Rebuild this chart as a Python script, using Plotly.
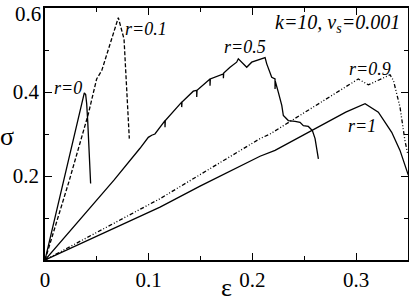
import plotly.graph_objects as go

# r = 0 (solid)
r0_x = [0.0, 0.0360, 0.0379, 0.0392, 0.0402, 0.0412, 0.0425, 0.0440]
r0_y = [0.0, 0.385, 0.398, 0.394, 0.372, 0.330, 0.262, 0.182]

# r = 0.1 (dashed)
r01_x = [0.0, 0.0235, 0.0418, 0.0498, 0.0547, 0.0707, 0.0762, 0.0813]
r01_y = [0.0, 0.190, 0.348, 0.431, 0.451, 0.577, 0.526, 0.289]

# r = 0.5 (solid, serrated)
r05_x = [0.0, 0.0665, 0.0916, 0.0996, 0.1029, 0.1060, 0.1157, 0.1157, 0.1160,
         0.1318, 0.1318, 0.1321, 0.1430, 0.1463, 0.1463, 0.1466, 0.1591, 0.1591,
         0.1594, 0.1720, 0.1720, 0.1723, 0.1784, 0.1848, 0.1864, 0.1897, 0.1945,
         0.1993, 0.2041, 0.2073, 0.2122, 0.2138, 0.2170, 0.2186, 0.2218, 0.2218,
         0.2221, 0.2250, 0.2283, 0.2298, 0.2346, 0.2411, 0.2459, 0.2491, 0.2539,
         0.2578, 0.2604, 0.2636]
r05_y = [0.0, 0.190, 0.266, 0.292, 0.297, 0.300, 0.332, 0.316, 0.332,
         0.376, 0.364, 0.376, 0.402, 0.404, 0.388, 0.404, 0.431, 0.415,
         0.431, 0.443, 0.433, 0.445, 0.459, 0.471, 0.479, 0.471, 0.459,
         0.471, 0.475, 0.479, 0.482, 0.467, 0.447, 0.435, 0.431, 0.407,
         0.425, 0.399, 0.368, 0.344, 0.332, 0.330, 0.328, 0.320, 0.318,
         0.308, 0.289, 0.241]

# r = 0.9 (dash-dot)
r09_x = [0.0, 0.1109, 0.2073, 0.2170, 0.3021, 0.3118, 0.3327, 0.3360, 0.3423, 0.3470, 0.3497]
r09_y = [0.0, 0.146, 0.289, 0.300, 0.431, 0.417, 0.441, 0.427, 0.364, 0.285, 0.253]

# r = 1 (solid)
r1_x = [0.0, 0.1109, 0.1495, 0.2073, 0.2218, 0.2900, 0.3086, 0.3214, 0.3343, 0.3423, 0.3503]
r1_y = [0.0, 0.126, 0.176, 0.247, 0.261, 0.352, 0.372, 0.352, 0.304, 0.261, 0.202]

labels = ["r=0", "r=0.1", "r=0.5", "r=0.9", "r=1"]
label_x = [0.0222, 0.0974, 0.193, 0.313, 0.3055]
label_y = [0.410, 0.550, 0.506, 0.455, 0.318]

x_ticks = [0, 0.1, 0.2, 0.3]
x_tick_text = ["0", "0.1", "0.2", "0.3"]
y_ticks = [0.2, 0.4, 0.6]
y_tick_text = ["0.2", "0.4", "0.6"]

serif = "Liberation Serif"
lw = 1.3

fig = go.Figure()
fig.add_trace(go.Scatter(x=r0_x, y=r0_y, mode="lines", line=dict(color="black", width=lw)))
fig.add_trace(go.Scatter(x=r01_x, y=r01_y, mode="lines", line=dict(color="black", width=lw, dash="4px,2px")))
fig.add_trace(go.Scatter(x=r05_x, y=r05_y, mode="lines", line=dict(color="black", width=lw)))
fig.add_trace(go.Scatter(x=r09_x, y=r09_y, mode="lines", line=dict(color="black", width=lw, dash="4px,2px,1px,2px,1px,2px")))
fig.add_trace(go.Scatter(x=r1_x, y=r1_y, mode="lines", line=dict(color="black", width=lw)))

for t, x, y in zip(labels, label_x, label_y):
    fig.add_annotation(x=x, y=y, text="<i>" + t + "</i>", showarrow=False,
                       xanchor="center", yanchor="middle",
                       font=dict(family=serif, size=18, color="black"))

fig.add_annotation(x=0.3445, y=0.562, text="<i>k=10, v<sub>s</sub>=0.001</i>", showarrow=False,
                   xanchor="right", yanchor="middle",
                   font=dict(family=serif, size=20, color="black"))

fig.add_annotation(xref="paper", yref="paper", x=-0.105, y=0.49, text="σ", showarrow=False,
                   xanchor="center", yanchor="middle",
                   font=dict(family=serif, size=26, color="black"))
fig.add_annotation(xref="paper", yref="paper", x=0.5, y=-0.11, text="ε", showarrow=False,
                   xanchor="center", yanchor="middle",
                   font=dict(family=serif, size=26, color="black"))

# top y tick label sits a little below its tick (as in the reference) so it is not clipped
top_label = y_tick_text[-1]
axis_y_text = y_tick_text[:-1] + [""]
fig.add_annotation(xref="paper", yref="y", x=0, y=y_ticks[-1], yshift=-6, xshift=-2,
                   text=top_label, showarrow=False, xanchor="right", yanchor="middle",
                   font=dict(family=serif, size=21, color="black"))

axis_common = dict(showgrid=False, zeroline=False, showline=True, linecolor="black",
                   linewidth=1.6, mirror="allticks", ticks="inside", ticklen=7,
                   tickwidth=1.3, tickcolor="black", automargin=False,
                   ticklabeloverflow="allow",
                   tickfont=dict(family=serif, size=21, color="black"))

fig.update_xaxes(range=[0, 0.35], tickvals=x_ticks, ticktext=x_tick_text,
                 minor=dict(dtick=0.05, tick0=0, ticks="inside", ticklen=4, tickcolor="black", tickwidth=1.2),
                 **axis_common)
fig.update_yaxes(range=[0, 0.6], tickvals=y_ticks, ticktext=axis_y_text,
                 minor=dict(dtick=0.1, tick0=0, ticks="inside", ticklen=4, tickcolor="black", tickwidth=1.2),
                 **axis_common)

fig.update_layout(width=409, height=297, margin=dict(l=45, r=1, t=8, b=37),
                  plot_bgcolor="white", paper_bgcolor="white", showlegend=False)

fig.write_html("out.html", config={"displayModeBar": False},
               post_script="document.body.style.margin='0';document.body.style.overflow='hidden';")
